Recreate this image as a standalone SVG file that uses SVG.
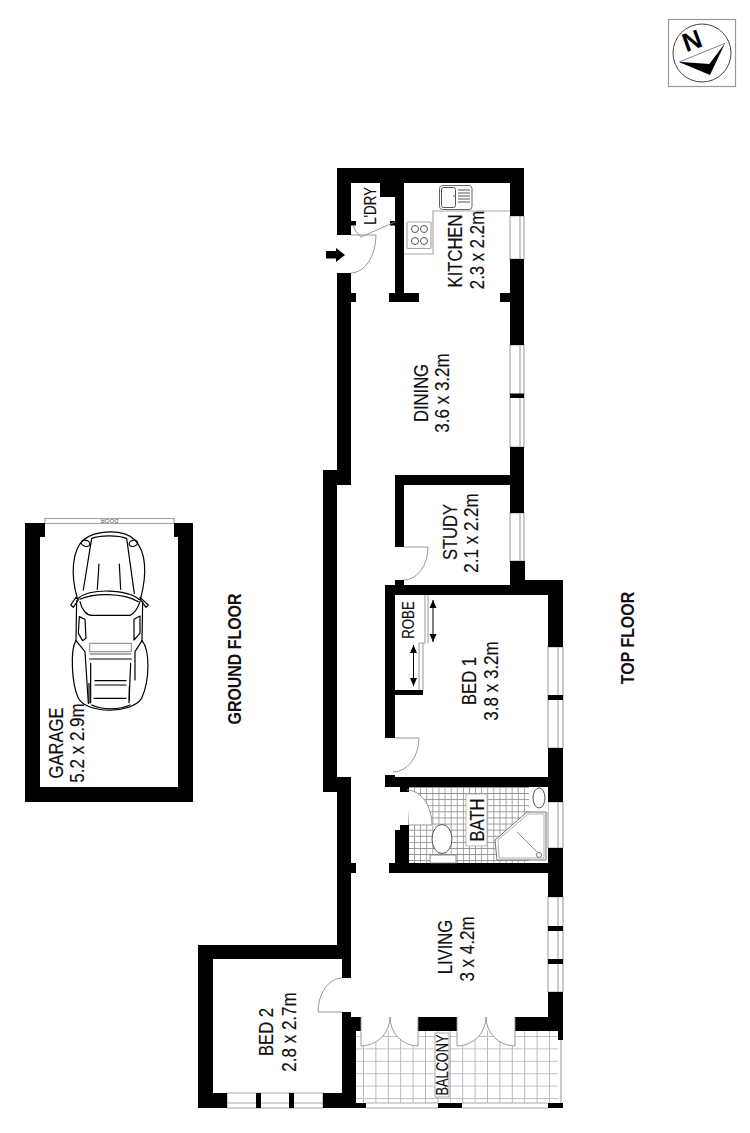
<svg xmlns="http://www.w3.org/2000/svg" width="750" height="1133" viewBox="0 0 750 1133">
<style>
.w{fill:#000}
.g{fill:none;stroke:#a8a8a8;stroke-width:1.2}
.win{fill:#fff;stroke:#a8a8a8;stroke-width:1.2}
.d{fill:none;stroke:#8c8c8c;stroke-width:.9}
.f{fill:#fff}
.t{font-family:"Liberation Sans",Arial,sans-serif;font-size:20px;fill:#111;stroke:#111;stroke-width:.15;text-anchor:middle}
.s{font-size:17px}
.b{font-family:"Liberation Sans",Arial,sans-serif;font-size:18px;font-weight:bold;fill:#111;text-anchor:middle}
.c{fill:none;stroke:#000;stroke-width:3.6;stroke-linejoin:round;stroke-linecap:round}
.l{fill:none;stroke:#555;stroke-width:1}
</style>
<defs>
<pattern id="bathTile" patternUnits="userSpaceOnUse" x="408" y="787" width="6.1" height="6.1"><rect width="6.1" height="6.1" fill="#fff"/><path d="M0,0H6.1M0,0V6.1" stroke="#909090" stroke-width="1.6" fill="none"/></pattern>
<pattern id="balTile" patternUnits="userSpaceOnUse" x="363" y="1036" width="12.4" height="12.4"><rect width="12.4" height="12.4" fill="#fff"/><path d="M0,0H12.4M0,0V12.4" stroke="#ababab" stroke-width="1.6" fill="none"/></pattern>
<marker id="ah" viewBox="0 0 8 10" refX="8" refY="5" markerWidth="8" markerHeight="10" markerUnits="userSpaceOnUse" orient="auto-start-reverse"><path d="M0,1.5L8,5L0,8.5Z" fill="#000"/></marker>
</defs>
<rect width="750" height="1133" fill="#fff"/>

<g id="north">
<rect x="668.500" y="19.500" width="67" height="67" fill="#fff" stroke="#999" stroke-width="1.2"/>
<circle cx="702" cy="53" r="29" fill="#fff" stroke="#444" stroke-width="1"/>
<text transform="translate(695,49) rotate(-20) scale(1,1)" font-family="'Liberation Sans',Arial,sans-serif" font-weight="bold" font-size="26" text-anchor="middle" fill="#000">N</text>
<g transform="translate(660,10) scale(.3333)">
<path d="M55,155L150,195L195,100L148,162Z" fill="#000"/>
<path d="M60,155L195,100" stroke="#444" stroke-width="2" fill="none"/>
</g>
</g>

<g id="garage">
<rect class="win" x="45" y="518.500" width="129" height="5"/>
<text transform="translate(109.500,518.500) rotate(180)" font-family="'Liberation Sans',Arial,sans-serif" font-size="6" text-anchor="middle" fill="#555">DOOR</text>
<path class="w" d="M25,523H45V537H40V787H178V537H174V523H193V802H25Z"/>
<g id="car" transform="translate(20,510) scale(.3333)">
<path class="c" d="M172,265C150,190 158,120 190,90C225,60 310,55 345,90C378,125 382,190 362,265"/>
<ellipse class="c" cx="197" cy="100" rx="13" ry="9" transform="rotate(15 197 100)"/>
<ellipse class="c" cx="340" cy="100" rx="13" ry="9" transform="rotate(-15 340 100)"/>
<path class="c" d="M215,85L190,240M320,85L343,250M215,85C240,75 295,75 320,85M237,162L232,238M298,162L302,238"/>
<path class="c" d="M175,265C210,235 320,235 360,270M180,268C220,248 310,248 355,275"/>
<path class="c" d="M180,275C185,300 200,315 215,316L330,316C345,310 355,290 360,275"/>
<path class="c" d="M152,285L168,262L175,270L160,292ZM360,262L385,285L378,292L362,270Z"/>
<path class="c" d="M170,272L168,392M368,275L366,392"/>
<path class="c" d="M178,320L195,328L198,385L188,392L175,370ZM360,318L342,328L342,390L360,370Z"/>
<path class="c" d="M168,392C150,420 155,520 175,565C200,610 330,615 365,565C390,510 390,420 366,392"/>
<path class="c" d="M168,392L195,425L205,580M366,392L345,425L345,510"/>
<path d="M209,400H334V425H209Z" fill="#fff" stroke="#999" stroke-width="3.500"/>
<path d="M209,432H334" stroke="#aaa" stroke-width="6" fill="none"/>
<path class="c" d="M209,447H334M225,512H318M225,525H318M222,565H318M212,460L212,578M332,460L327,578M215,585C245,600 300,600 330,585"/>
<path class="c" d="M207,520V580M328,530V570"/>
</g>
<text class="t" transform="translate(63,743) rotate(-90) scale(.83,1)">GARAGE</text>
<text class="t" transform="translate(84,743) rotate(-90) scale(.85,1)">5.2 x 2.9m</text>
</g>

<g id="floor-labels">
<text class="b" transform="translate(241,659) rotate(-90) scale(.885,1)">GROUND FLOOR</text>
<text class="b" transform="translate(634,638) rotate(-90) scale(.885,1)">TOP FLOOR</text>
</g>

<g id="tiles">
<rect x="408" y="787" width="121" height="76" fill="url(#bathTile)"/>
<rect x="356" y="1031" width="202" height="72" fill="url(#balTile)"/>
</g>

<g id="windows">
<path class="win" d="M510,216H524V259H510ZM520,216V259"/>
<path class="win" d="M510,345H524V447H510ZM520,345V447"/>
<path class="win" d="M510,513H524V561H510ZM520,513V561"/>
<path class="win" d="M548,647H563V748H548ZM558,647V748"/>
<path class="win" d="M548,802H563V848H548ZM558,802V848"/>
<path class="win" d="M548,897H563V992H548ZM558,897V992"/>
<path class="win" d="M227,1093H323V1108H227ZM227,1103H323"/>
<path class="g" d="M366,1108H438M462,1108H548M561,1040V1103"/>
<path class="g" d="M366,1103H438M462,1103H548"/>
</g>

<g id="door-leaves">
<path class="f" d="M409,825H432A25,35 0 0 0 407,790Z"/>
<path class="f" d="M361,1017V1046A29,29 0 0 0 390,1017Z"/>
<path class="f" d="M418,1017V1046A28,29 0 0 1 390,1017Z"/>
<path class="f" d="M457,1017V1046A29,29 0 0 0 486,1017Z"/>
<path class="f" d="M515,1017V1046A29,29 0 0 1 486,1017Z"/>
</g>

<g id="walls">
<rect class="w" x="337" y="168" width="187" height="15"/>
<rect class="w" x="337" y="168" width="14" height="67"/>
<rect class="w" x="510" y="168" width="14" height="48"/>
<rect class="w" x="510" y="259" width="14" height="86"/>
<rect class="w" x="510" y="393.500" width="14" height="4.500"/>
<rect class="w" x="510" y="447" width="14" height="66"/>
<rect class="w" x="510" y="561" width="15" height="24"/>
<rect class="w" x="500" y="293" width="10" height="9"/>
<rect class="w" x="395" y="183" width="9" height="110"/>
<rect class="w" x="389" y="293" width="30" height="9"/>
<rect class="w" x="380" y="183" width="15" height="14"/>
<rect class="w" x="351" y="221" width="5" height="4.500"/>
<rect class="w" x="390" y="221" width="5" height="4.500"/>
<rect class="w" x="337" y="273" width="14" height="212"/>
<rect class="w" x="351" y="293" width="5" height="9"/>
<rect class="w" x="323" y="470" width="14" height="322"/>
<rect class="w" x="337" y="470" width="14" height="15"/>
<rect class="w" x="337" y="777" width="14" height="168"/>
<rect class="w" x="351" y="863" width="5" height="10"/>
<rect class="w" x="395" y="475" width="115" height="10"/>
<rect class="w" x="395" y="475" width="9" height="72"/>
<rect class="w" x="395" y="580" width="9" height="5"/>
<rect class="w" x="385" y="585" width="178" height="10"/>
<rect class="w" x="510" y="580" width="53" height="15"/>
<rect class="w" x="385" y="585" width="10" height="153"/>
<rect class="w" x="548" y="580" width="15" height="67"/>
<rect class="w" x="548" y="695" width="15" height="5"/>
<rect class="w" x="395" y="690" width="28" height="5"/>
<rect class="w" x="548" y="748" width="15" height="54"/>
<rect class="w" x="385" y="775" width="10" height="12"/>
<rect class="w" x="385" y="777" width="178" height="10"/>
<rect class="w" x="400" y="787" width="9" height="5"/>
<path class="w" d="M400,825H409V863H395V830H400Z"/>
<rect class="w" x="389" y="863" width="174" height="10"/>
<rect class="w" x="548" y="848" width="15" height="49"/>
<rect class="w" x="548" y="926" width="15" height="5"/>
<rect class="w" x="548" y="959" width="15" height="5"/>
<rect class="w" x="548" y="992" width="15" height="39"/>
<rect class="w" x="515" y="1017" width="48" height="14"/>
<rect class="w" x="418" y="1017" width="39" height="14"/>
<rect class="w" x="558" y="1031" width="5" height="9"/>
<path class="w" d="M198,945H351V978H342V959H213V1093H342V1012H351V1017H361V1031H356V1103H366V1108H323V1093H227V1108H198Z"/>
<rect class="w" x="256" y="1093" width="5" height="15"/>
<rect class="w" x="289" y="1093" width="5" height="15"/>
<rect class="w" x="438" y="1103" width="24" height="5"/>
<rect class="w" x="548" y="1103" width="15" height="5"/>
</g>

<g id="doors">
<path class="d" d="M351,235H376A25,38 0 0 1 351,273"/>
<path class="d" d="M395,222L361,237Q355,232 353,225"/>
<path class="d" d="M404,547H428A24,33 0 0 1 404,580"/>
<path class="d" d="M395,738H419A26,34 0 0 1 393,772"/>
<path class="d" d="M409,825H432A25,35 0 0 0 407,790"/>
<path class="d" d="M342,1012H318A24,34 0 0 1 342,978"/>
<path class="d" d="M361,1017V1046A29,29 0 0 0 390,1017"/>
<path class="d" d="M418,1017V1046A28,29 0 0 1 390,1017"/>
<path class="d" d="M457,1017V1046A29,29 0 0 0 486,1017"/>
<path class="d" d="M515,1017V1046A29,29 0 0 1 486,1017"/>
<path class="w" d="M326,251H336V248L345,255L336,262V258.500H326Z"/>
</g>

<g id="kitchen">
<path class="g" d="M510,211H433V254H404"/>
<rect x="407" y="222" width="24" height="26.500" rx="1" class="g"/>
<g class="l" stroke-width=".9"><circle cx="415" cy="229" r="3.500"/><circle cx="424" cy="229" r="3.500"/><circle cx="415" cy="241" r="3.500"/><circle cx="424" cy="241" r="3.500"/></g>
<rect x="439.500" y="185.500" width="32.500" height="24" rx="3" fill="#fff" stroke="#666" stroke-width="1"/>
<rect x="441.500" y="187.500" width="14" height="20" rx="2" class="l"/>
<path class="l" d="M458,190H470M458,193H470M458,196H470M458,199H470M458,202H470"/>
<circle cx="454" cy="196" r=".8" fill="#555"/>
<text class="t s" transform="translate(376,206) rotate(-90) scale(.78,1)">L'DRY</text>
<text class="t" transform="translate(462,251) rotate(-90) scale(.83,1)">KITCHEN</text>
<text class="t" transform="translate(484,250) rotate(-90) scale(.84,1)">2.3 x 2.2m</text>
</g>

<g id="dining-study">
<text class="t" transform="translate(428,393) rotate(-90) scale(.83,1)">DINING</text>
<text class="t" transform="translate(449,393) rotate(-90) scale(.85,1)">3.6 x 3.2m</text>
<text class="t" transform="translate(457,532) rotate(-90) scale(.83,1)">STUDY</text>
<text class="t" transform="translate(478,533) rotate(-90) scale(.85,1)">2.1 x 2.2m</text>
</g>

<g id="bed1">
<path class="g" d="M425,595V643H419V690M428,595V643M423,643V690"/>
<path d="M433,600V642" stroke="#000" stroke-width="1" fill="none" marker-start="url(#ah)" marker-end="url(#ah)"/>
<path d="M413.500,645V686" stroke="#000" stroke-width="1" fill="none" marker-start="url(#ah)" marker-end="url(#ah)"/>
<text class="t s" transform="translate(414,620) rotate(-90) scale(.78,1)">ROBE</text>
<text class="t" transform="translate(476,681) rotate(-90) scale(.83,1)">BED 1</text>
<text class="t" transform="translate(498,681) rotate(-90) scale(.85,1)">3.8 x 3.2m</text>
</g>

<g id="bath">
<rect x="529" y="787" width="19" height="25" fill="#fff"/>
<ellipse cx="539" cy="798" rx="6" ry="10" fill="#fff" stroke="#555" stroke-width="1"/>
<path d="M495,840L527,812H546V860H497Z" fill="#fff" stroke="#777" stroke-width="1"/>
<path d="M498,840L528,814H544V858H499Z" fill="none" stroke="#999" stroke-width=".8"/>
<path d="M517,832L537,852" stroke="#777" stroke-width=".8"/>
<circle cx="539" cy="855" r="2.500" fill="#fff" stroke="#666" stroke-width=".9"/>
<rect x="430" y="855" width="26" height="8" fill="#fff" stroke="#777" stroke-width=".8"/>
<ellipse cx="442" cy="839" rx="10" ry="14.500" fill="#fff" stroke="#555" stroke-width="1"/>
<rect x="466" y="794" width="21" height="52" fill="#fff" stroke="#aaa" stroke-width=".8"/>
<text class="t" transform="translate(484,820) rotate(-90) scale(.83,1)">BATH</text>
</g>

<g id="living">
<text class="t" transform="translate(452,947) rotate(-90) scale(.83,1)">LIVING</text>
<text class="t" transform="translate(474,949) rotate(-90) scale(.85,1)">3 x 4.2m</text>
<rect x="435" y="1033" width="14" height="64" fill="#fff" stroke="#999" stroke-width=".8"/>
<text class="t s" transform="translate(448,1065) rotate(-90) scale(.75,1)">BALCONY</text>
</g>

<g id="bed2">
<text class="t" transform="translate(273,1032) rotate(-90) scale(.83,1)">BED 2</text>
<text class="t" transform="translate(296,1032) rotate(-90) scale(.85,1)">2.8 x 2.7m</text>
</g>
</svg>
